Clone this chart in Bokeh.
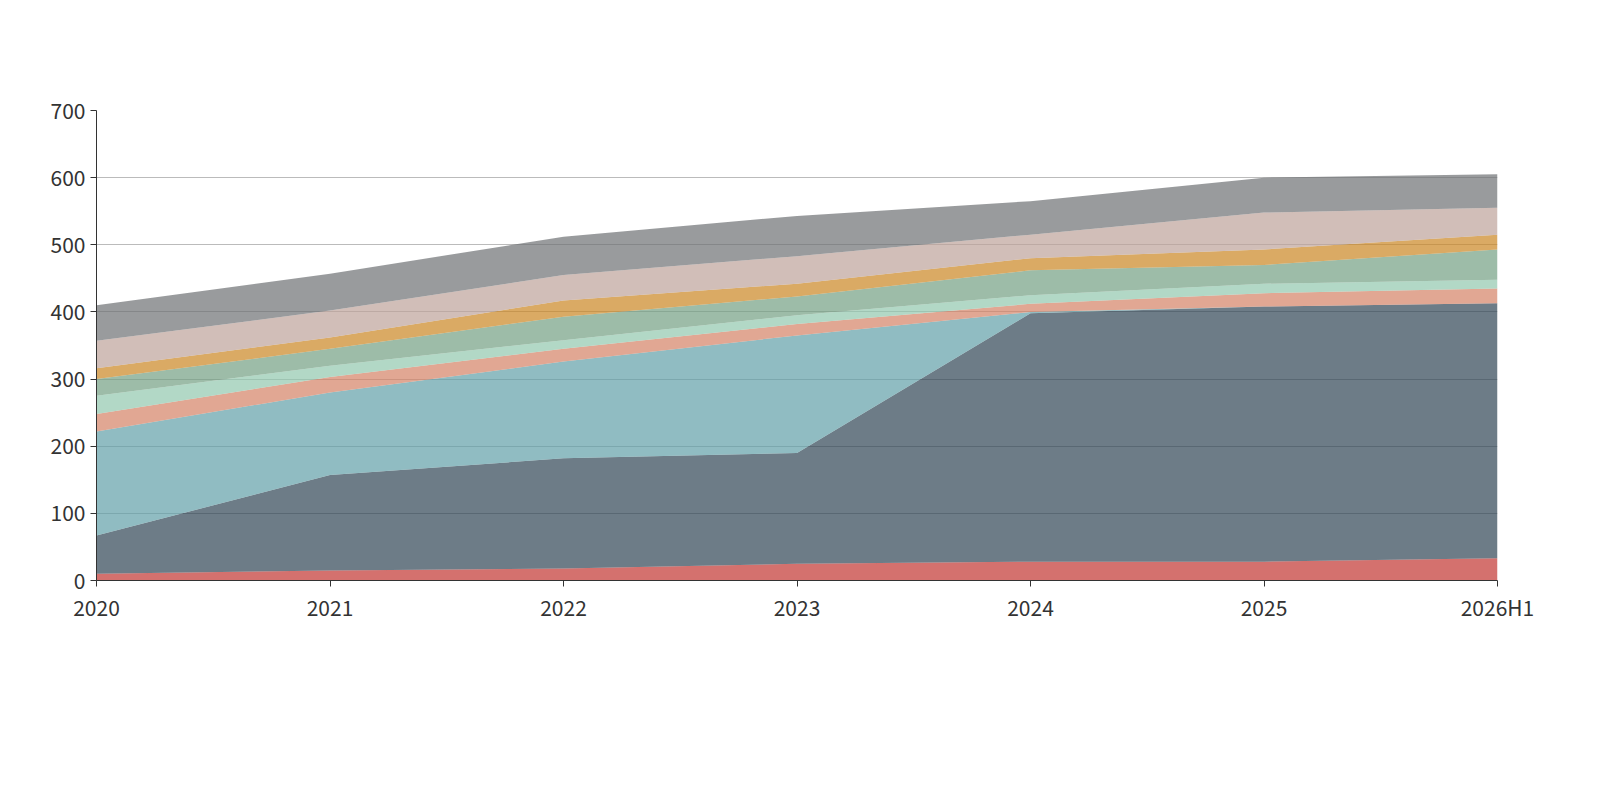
from bokeh.embed import file_html
from bokeh.models import Label, Legend, LegendItem, Range1d, FixedTicker
from bokeh.plotting import figure
from bokeh.resources import INLINE

periods = ["2020", "2021", "2022", "2023", "2024", "2025", "2026H1"]
names = ["其他非流动资产", "无形资产", "在建工程合计", "长期应收款", "存货",
         "合同资产", "应收票据及应收账款", "固定资产", "货币资金"]
colors = ["#c23531", "#2f4554", "#61a0a8", "#d48265", "#91c7ae",
          "#749f83", "#ca8622", "#bda29a", "#6e7074"]
# individual series values (亿元)
other_nc = [10, 15, 18, 25, 28, 28, 33]
intangible = [57, 142, 164, 165, 370, 380, 380]
construction = [155, 123, 144, 175, 2, 0, 0]
lt_receivable = [26, 23, 19, 17, 12, 20, 22]
inventory = [27, 17, 13, 13, 13, 14, 13]
contract = [25, 25, 35, 28, 37, 28, 45]
receivable = [16, 17, 24, 19, 18, 23, 22]
fixed = [41, 40, 38, 41, 35, 55, 40]
cash = [53, 55, 57, 60, 50, 52, 50]
series = [other_nc, intangible, construction, lt_receivable, inventory,
          contract, receivable, fixed, cash]

font = "Noto Sans CJK SC"
xs = list(range(len(periods)))

p = figure(width=1584, height=784, x_range=Range1d(0, 6), y_range=Range1d(0, 700),
           output_backend="svg", toolbar_location=None,
           min_border_left=96, min_border_right=87, min_border_top=110, min_border_bottom=204)
p.outline_line_color = None

base = [0] * len(xs)
for vals, c in zip(series, colors):
    top = [b + v for b, v in zip(base, vals)]
    p.varea(x=xs, y1=base, y2=top, fill_color=c, fill_alpha=0.7)
    base = top

p.xgrid.visible = False
p.ygrid.grid_line_color = "#bbbbbb"
p.yaxis.ticker = FixedTicker(ticks=list(range(0, 701, 100)))
p.xaxis.ticker = FixedTicker(ticks=xs)
p.xaxis.major_label_overrides = {i: s for i, s in enumerate(periods)}
for ax in (p.xaxis, p.yaxis):
    ax.major_label_text_font = font
    ax.major_label_text_font_size = "21px"
    ax.major_label_text_color = "#333333"
    ax.axis_line_color = "#333333"
    ax.major_tick_line_color = "#333333"
    ax.minor_tick_line_color = None
    ax.major_tick_in = 0
    ax.major_tick_out = 6

p.add_layout(Label(x=3, y=838, text="历年主要资产堆积图", text_align="center",
                   text_baseline="middle", text_font=font, text_font_size="32px",
                   text_font_style="bold", text_color="#333333"))
p.add_layout(Label(x=-0.27, y=650, text="(亿元)", angle=-1.5708, text_align="center",
                   text_baseline="middle", text_color="red", text_font=font,
                   text_font_size="15px"))

items = []
for i in range(8):
    lr = p.line(x=[], y=[], line_color=colors[i], line_width=2)
    sr = p.scatter(x=[], y=[], size=20, fill_color=colors[i], line_color=colors[i])
    items.append(LegendItem(label=names[i] if i < 7 else "", renderers=[lr, sr]))
legend = Legend(items=items, orientation="horizontal", location=(-104, -152),
                glyph_width=50, glyph_height=30, label_standoff=8, spacing=22,
                padding=0, margin=0, border_line_color=None, background_fill_alpha=0,
                label_text_font=font, label_text_font_size="20px",
                label_text_color="#333333")
p.add_layout(legend)

p.add_layout(Label(x=5.89, y=-194, text="◀", text_align="center", text_baseline="middle",
                   text_color="#aaaaaa", text_font_size="24px"))
p.add_layout(Label(x=6.06, y=-194, text="1/2", text_align="center", text_baseline="middle",
                   text_color="#333333", text_font=font, text_font_size="20px"))
p.add_layout(Label(x=6.20, y=-194, text="▶", text_align="center", text_baseline="middle",
                   text_color="#2f4554", text_font_size="24px"))
p.add_layout(Label(x=2.88, y=-276, text="制图数据来自恒生聚源数据库", text_align="center",
                   text_baseline="middle", text_color="#c8961e", text_font=font,
                   text_font_size="15px"))

open("out.html", "w").write(file_html(p, INLINE))
